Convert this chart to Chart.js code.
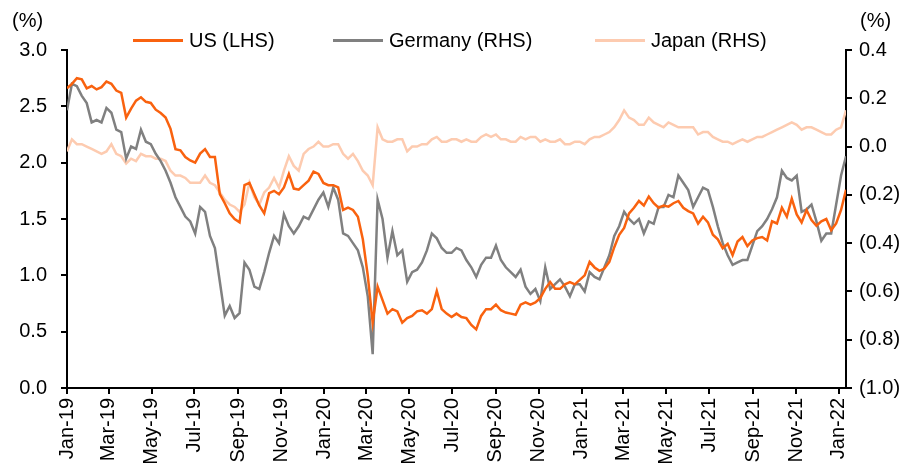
<!DOCTYPE html>
<html>
<head>
<meta charset="utf-8">
<script src="https://cdn.jsdelivr.net/npm/chart.js@4.4.1/dist/chart.umd.min.js"></script>
<style>
  html, body { margin: 0; padding: 0; background: #fff; }
  #wrap { position: relative; width: 923px; height: 470px; font-family: 'Liberation Sans', Arial, sans-serif; color: #000; }
  #chart { position: absolute; left: 0; top: 0; }
  .unit { position: absolute; top: 8px; font-size: 20px; line-height: 24px; }
  .item { position: absolute; top: 28px; font-size: 20px; line-height: 24px; display: flex; align-items: center; white-space: nowrap; }
  .swatch { display: inline-block; width: 50px; height: 3px; margin-right: 6px; }
</style>
</head>
<body>
<div id="wrap">
  <canvas id="chart" width="923" height="470"></canvas>
  <div class="unit" style="left:12px">(%)</div>
  <div class="unit" style="left:860px">(%)</div>
  <div id="legend"></div>
</div>
<script>
// weekly 10-year government bond yields, first point 1 Jan 2019
var startDate = Date.UTC(2019, 0, 1);
var stepDays = 7;

var seriesNames = ['US (LHS)', 'Germany (RHS)', 'Japan (RHS)'];
var seriesColors = ['#F9620F', '#808080', '#FDCBB0'];

var tickLabels = ['Jan-19', 'Mar-19', 'May-19', 'Jul-19', 'Sep-19', 'Nov-19',
  'Jan-20', 'Mar-20', 'May-20', 'Jul-20', 'Sep-20', 'Nov-20',
  'Jan-21', 'Mar-21', 'May-21', 'Jul-21', 'Sep-21', 'Nov-21', 'Jan-22'];

var usYield = [2.66,2.70,2.75,2.74,2.66,2.68,2.65,2.67,2.72,2.70,
  2.64,2.62,2.40,2.48,2.55,2.58,2.54,2.53,2.47,2.44,
  2.40,2.30,2.12,2.11,2.05,2.02,2.00,2.08,2.12,2.05,
  2.05,1.72,1.64,1.55,1.50,1.47,1.80,1.82,1.72,1.62,
  1.55,1.73,1.75,1.72,1.78,1.90,1.77,1.76,1.80,1.84,
  1.92,1.90,1.82,1.80,1.80,1.78,1.58,1.60,1.58,1.52,
  1.32,1.00,0.58,0.90,0.78,0.66,0.70,0.68,0.58,0.62,
  0.64,0.68,0.69,0.66,0.70,0.86,0.70,0.66,0.63,0.66,
  0.63,0.62,0.56,0.52,0.64,0.70,0.70,0.74,0.69,0.67,
  0.66,0.65,0.74,0.76,0.74,0.76,0.80,0.88,0.94,0.88,
  0.88,0.92,0.94,0.92,0.96,1.00,1.12,1.07,1.04,1.06,
  1.12,1.25,1.36,1.42,1.55,1.60,1.66,1.62,1.70,1.64,
  1.60,1.62,1.61,1.64,1.66,1.60,1.57,1.55,1.46,1.52,
  1.47,1.36,1.32,1.24,1.28,1.18,1.30,1.34,1.26,1.31,
  1.33,1.34,1.31,1.48,1.46,1.60,1.52,1.68,1.54,1.47,
  1.58,1.49,1.44,1.48,1.50,1.40,1.46,1.58,1.76];

var germanyYield = [0.15,0.26,0.25,0.21,0.18,0.10,0.11,0.10,0.16,0.14,
  0.07,0.06,-0.05,0.00,-0.01,0.07,0.02,0.01,-0.03,-0.06,
  -0.10,-0.15,-0.21,-0.25,-0.29,-0.31,-0.36,-0.25,-0.27,-0.37,
  -0.42,-0.56,-0.70,-0.66,-0.71,-0.69,-0.48,-0.51,-0.58,-0.59,
  -0.52,-0.44,-0.37,-0.40,-0.28,-0.33,-0.36,-0.33,-0.29,-0.30,
  -0.26,-0.22,-0.19,-0.25,-0.17,-0.22,-0.36,-0.37,-0.40,-0.43,
  -0.50,-0.62,-0.86,-0.22,-0.30,-0.46,-0.35,-0.45,-0.43,-0.56,
  -0.52,-0.51,-0.48,-0.43,-0.36,-0.38,-0.42,-0.44,-0.44,-0.42,
  -0.43,-0.47,-0.50,-0.54,-0.49,-0.46,-0.46,-0.41,-0.47,-0.50,
  -0.52,-0.54,-0.51,-0.58,-0.61,-0.59,-0.64,-0.50,-0.59,-0.57,
  -0.55,-0.58,-0.62,-0.57,-0.57,-0.60,-0.52,-0.54,-0.55,-0.50,
  -0.45,-0.37,-0.33,-0.27,-0.30,-0.32,-0.30,-0.36,-0.31,-0.32,
  -0.25,-0.25,-0.20,-0.21,-0.12,-0.15,-0.18,-0.25,-0.21,-0.17,
  -0.18,-0.25,-0.33,-0.40,-0.45,-0.49,-0.48,-0.47,-0.47,-0.41,
  -0.35,-0.33,-0.30,-0.26,-0.21,-0.10,-0.13,-0.14,-0.12,-0.27,
  -0.26,-0.24,-0.31,-0.39,-0.36,-0.36,-0.24,-0.12,-0.04];

var japanYield = [-0.02,0.03,0.01,0.01,0.00,-0.01,-0.02,-0.03,-0.02,0.01,
  -0.03,-0.04,-0.07,-0.05,-0.06,-0.03,-0.04,-0.04,-0.05,-0.05,
  -0.06,-0.10,-0.12,-0.12,-0.13,-0.15,-0.15,-0.15,-0.12,-0.15,
  -0.16,-0.19,-0.22,-0.24,-0.25,-0.27,-0.24,-0.15,-0.21,-0.24,
  -0.19,-0.17,-0.13,-0.17,-0.10,-0.04,-0.08,-0.10,-0.03,-0.01,
  0.00,0.02,0.00,0.00,0.01,0.01,-0.03,-0.05,-0.03,-0.06,
  -0.10,-0.12,-0.16,0.08,0.03,0.02,0.02,0.03,0.03,-0.02,
  0.00,0.00,0.01,0.01,0.03,0.04,0.02,0.02,0.03,0.03,
  0.02,0.03,0.02,0.02,0.04,0.05,0.04,0.05,0.03,0.03,
  0.02,0.02,0.04,0.03,0.04,0.04,0.02,0.03,0.02,0.02,
  0.03,0.01,0.01,0.02,0.02,0.01,0.03,0.04,0.04,0.05,
  0.06,0.08,0.11,0.15,0.12,0.11,0.09,0.09,0.12,0.10,
  0.09,0.08,0.10,0.09,0.08,0.08,0.08,0.08,0.05,0.06,
  0.06,0.04,0.03,0.02,0.02,0.01,0.02,0.03,0.02,0.03,
  0.04,0.04,0.05,0.06,0.07,0.08,0.09,0.10,0.09,0.07,
  0.08,0.08,0.07,0.06,0.05,0.05,0.07,0.08,0.15];

// day offsets of the x ticks (1st of every second month)
var tickDays = tickLabels.map(function(lbl, i) {
  return (Date.UTC(2019, i * 2, 1) - startDate) / 86400000;
});
var lastDay = (usYield.length - 1) * stepDays;

function toPoints(arr) {
  return arr.map(function(v, i) { return { x: i * stepDays, y: v }; });
}

// html legend
var legendEl = document.getElementById('legend');
var legendLeft = [133, 333, 595];
seriesNames.forEach(function(name, i) {
  var d = document.createElement('div');
  d.className = 'item';
  d.style.left = legendLeft[i] + 'px';
  d.innerHTML = '<span class="swatch" style="background:' + seriesColors[i] + '"></span>' + name;
  legendEl.appendChild(d);
});

Chart.defaults.font.family = "'Liberation Sans', Arial, sans-serif";
Chart.defaults.font.size = 20;
Chart.defaults.color = '#000';

var axisGrid = { drawOnChartArea: false, drawTicks: true, tickLength: 6, color: '#000', tickColor: '#000', lineWidth: 2 };
var axisBorder = { display: true, color: '#000', width: 2 };

function lineSet(i, data, axis) {
  return {
    label: seriesNames[i],
    data: toPoints(data),
    yAxisID: axis,
    borderColor: seriesColors[i],
    backgroundColor: seriesColors[i],
    borderWidth: 2.5,
    pointRadius: 0,
    tension: 0,
    fill: false
  };
}

var ctx = document.getElementById('chart').getContext('2d');
var chart = new Chart(ctx, {
  type: 'line',
  data: {
    datasets: [
      lineSet(0, usYield, 'y'),
      lineSet(1, germanyYield, 'y1'),
      lineSet(2, japanYield, 'y1')
    ]
  },
  options: {
    responsive: false,
    animation: false,
    devicePixelRatio: 1,
    layout: { padding: { top: 50, left: 0, right: 0, bottom: 0 } },
    plugins: { legend: { display: false }, tooltip: { enabled: false } },
    scales: {
      x: {
        type: 'linear',
        min: 0,
        max: lastDay,
        afterBuildTicks: function(axis) {
          axis.ticks = tickDays.map(function(d) { return { value: d }; });
        },
        ticks: {
          autoSkip: false,
          minRotation: 90,
          maxRotation: 90,
          padding: 4,
          callback: function(v, idx) { return tickLabels[idx]; }
        },
        grid: axisGrid,
        border: axisBorder,
        afterFit: function(s) { s.height = 82; }
      },
      y: {
        position: 'left',
        min: 0,
        max: 3,
        ticks: { stepSize: 0.5, padding: 14, callback: function(v) { return v.toFixed(1); } },
        grid: axisGrid,
        border: axisBorder,
        afterFit: function(s) { s.width = 67; }
      },
      y1: {
        position: 'right',
        min: -1,
        max: 0.4,
        ticks: {
          stepSize: 0.2,
          padding: 7,
          callback: function(v) {
            if (v < -1e-9) return '(' + Math.abs(v).toFixed(1) + ')';
            return Math.abs(v).toFixed(1);
          }
        },
        grid: axisGrid,
        border: axisBorder,
        afterFit: function(s) { s.width = 77; }
      }
    }
  }
});
</script>
</body>
</html>
